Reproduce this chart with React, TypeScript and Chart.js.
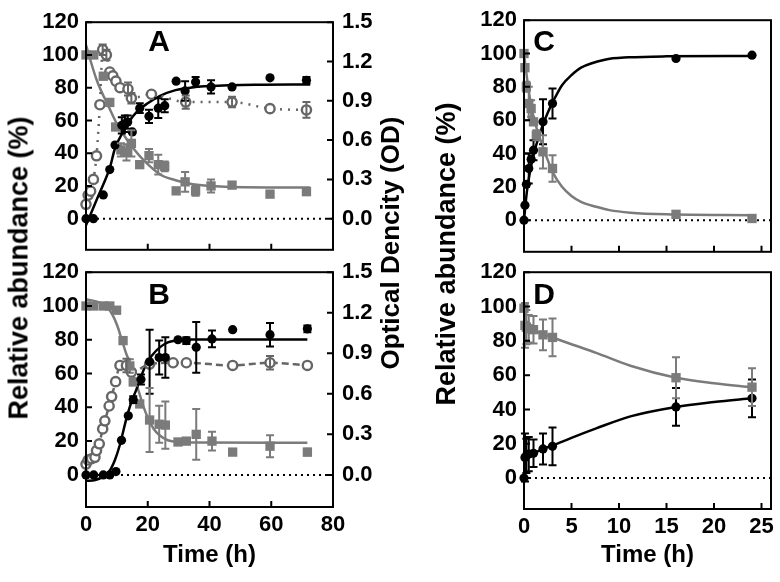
import React, { useEffect, useRef } from "react";
import { Chart, registerables } from "chart.js";

Chart.register(...registerables);

const FONT = "'Liberation Sans', Arial, Helvetica, sans-serif";
const BLACK = "#000000";
const GRAY = "#7b7b7b";
const OD_GRAY = "#666666";

// ---------- axis ticks ----------
const timeTicksLeft = [0, 20, 40, 60, 80];
const timeTicksRight = [0, 5, 10, 15, 20, 25];
const abundanceTicks = [0, 20, 40, 60, 80, 100, 120];
const odTicks = [0, 0.3, 0.6, 0.9, 1.2, 1.5];

// ---------- Panel A ----------
const aBlackT = [0, 2.4, 5.6, 7.7, 9.4, 11.6, 12.6, 13.5, 15, 17.4, 20.4, 23.4, 25.5, 29.2, 32.1, 35.5, 40.5, 47.3, 59.6, 71.4];
const aBlackV = [0, 0, 14.5, 30, 45, 57, 58, 59, 53, 67.5, 62.5, 67.5, 69, 84, 78, 83.5, 80.5, 80.5, 86, 84.5];
const aBlackErr = [0, 0, 0, 0, 0, 5, 5, 4, 0, 3, 4, 6, 4, 0, 6, 3, 4, 0, 0, 2];
const aGrayT = [0, 2.5, 5.6, 7.7, 9.6, 11.3, 13.1, 14.7, 17.4, 20.4, 23.4, 25.5, 29.2, 32.1, 35.5, 40.5, 47.3, 59.6, 71.4];
const aGrayV = [100, 100, 87, 71, 56, 42, 40.5, 46, 33, 38.5, 33, 32, 17, 22.5, 17, 20, 20.5, 15, 16.5];
const aGrayErr = [0, 0, 0, 0, 0, 4, 5, 8, 2, 4, 6, 3, 0, 6, 3, 4, 0, 0, 2];
const aOdT = [0, 0.7, 1.5, 2.4, 3.4, 4.5, 5.4, 6.6, 7.7, 8.7, 9.7, 11, 13.6, 14.7, 21.2, 32.3, 47.3, 59.6, 71.4];
const aOdV = [0.11, 0.18, 0.21, 0.3, 0.48, 0.87, 1.29, 1.25, 1.12, 1.09, 1.05, 1.0, 0.99, 0.92, 0.95, 0.89, 0.89, 0.84, 0.83];
const aOdErr = [0, 0, 0, 0, 0, 0, 0.04, 0.04, 0, 0, 0, 0, 0.05, 0.04, 0, 0.05, 0.04, 0, 0.06];
const aBlackFitT = [0, 4, 7.7, 9.4, 12, 14, 16.3, 20, 24, 29, 35, 40, 55, 72.6];
const aBlackFitV = [-4, 14, 31, 43, 53, 59.5, 65, 70.5, 75, 78.5, 80.3, 81, 81.8, 82];
const aGrayFitT = [0, 3.4, 7.7, 10, 13, 15.5, 18.5, 24, 29, 34.6, 45, 72.6];
const aGrayFitV = [106, 85, 67, 58, 49, 42.5, 36, 27, 23.5, 21, 19.5, 19];

// ---------- Panel B ----------
const bBlackT = [0, 2.5, 5.6, 7.7, 9.7, 11.5, 13.7, 15.3, 17.8, 20.6, 23.7, 25.7, 29.8, 32.5, 35.7, 40.8, 47.5, 59.6, 71.7];
const bBlackV = [0, 0, 0, 0, 2, 20.5, 35, 44.5, 56.5, 67, 69.5, 69.5, 80, 79.5, 75.5, 80.5, 86, 83, 86.5];
const bBlackErr = [0, 0, 0, 0, 0, 0, 0, 2, 3, 19, 10, 12, 0, 2, 15, 5, 0, 7, 2];
const bGrayT = [0, 2.5, 5.6, 7.7, 9.9, 12, 14.2, 15.3, 17.4, 20.6, 23.7, 25.7, 29.8, 32.5, 35.7, 40.8, 47.5, 59.6, 71.7];
const bGrayV = [100, 100, 100, 100, 97.5, 79.5, 64.5, 55, 42, 32.5, 30, 29.5, 19.5, 20, 24, 20, 13.5, 17, 13.5];
const bGrayErr = [0, 0, 0, 0, 0, 0, 4, 0, 0, 19, 11, 14, 0, 0, 15, 5.5, 0, 6.5, 2];
const bOdT = [0, 0.7, 1.8, 2.9, 3.4, 4.3, 5.4, 6.1, 7.5, 8.3, 9.6, 11, 13.1, 14.7, 20.6, 28.2, 32.5, 47.5, 59.6, 71.7];
const bOdV = [0.08, 0.11, 0.12, 0.13, 0.18, 0.23, 0.34, 0.4, 0.51, 0.58, 0.69, 0.81, 0.81, 0.76, 0.82, 0.83, 0.83, 0.81, 0.83, 0.81];
const bOdErr = [0, 0, 0, 0, 0, 0, 0, 0, 0, 0, 0, 0, 0.05, 0, 0, 0, 0, 0, 0.05, 0];
const bBlackFitT = [0, 3, 5.6, 7.5, 9.4, 11, 13.1, 14.5, 16.3, 18, 19.6, 21.5, 23.9, 26.5, 29.2, 33, 71.7];
const bBlackFitV = [-3.5, -3, -1, 2, 9, 18, 33.5, 42, 50.5, 59, 66, 71, 75.5, 78.5, 79.6, 80.2, 80.2];
const bGrayFitT = [0, 4.5, 7, 8.8, 10.2, 11.5, 12.8, 14.2, 15.5, 16.9, 18.5, 20.1, 22, 23.9, 26.5, 29.2, 35, 71.7];
const bGrayFitV = [104, 102, 99, 94, 88, 80.5, 73, 66, 58, 50.5, 41, 33.5, 27, 23.3, 20.5, 19.6, 19.2, 19];

// ---------- Panel C ----------
const cBlackT = [0, 0.1, 0.25, 0.5, 0.75, 1, 2, 3, 16, 24];
const cBlackV = [0, 9, 21.5, 31, 36.5, 42, 59, 70, 97, 99];
const cBlackErr = [0, 0, 0, 9, 0, 6, 13.5, 9, 0, 0];
const cGrayT = [0, 0.1, 0.25, 0.5, 0.75, 1, 1.3, 2, 3, 16, 24];
const cGrayV = [100, 91.5, 80, 70, 67, 59, 51, 41, 31, 3.5, 1];
const cGrayErr = [0, 0, 3, 10, 5, 0, 3, 10, 8, 0, 0];
const cBlackFitT = [0, 0.3, 0.6, 1, 1.5, 2, 2.5, 3, 4, 5, 6, 8.5, 11, 15, 24];
const cBlackFitV = [0, 17, 28, 39, 49, 57.5, 64.5, 70.5, 81, 87, 91.5, 96.3, 97.7, 98.3, 98.5];
const cGrayFitT = [0, 0.3, 0.6, 1, 1.5, 2, 2.5, 3, 4, 5, 6, 7.6, 9, 11.2, 15, 24];
const cGrayFitV = [100, 86, 74, 62, 52, 44, 36, 29, 20, 14.5, 11, 8, 6, 4.5, 3.5, 3];

// ---------- Panel D ----------
const dBlackT = [0, 0.1, 0.25, 0.5, 1, 2, 3, 16, 24];
const dBlackV = [0, 12, 13, 14, 14.5, 17, 18.5, 41.5, 46.5];
const dBlackErr = [0, 14, 10, 10, 8, 9, 11, 11, 11];
const dGrayT = [0, 0.1, 0.25, 0.5, 1, 2, 3, 16, 24];
const dGrayV = [99, 89, 88, 87, 86.5, 83.5, 82, 58.5, 53];
const dGrayErr = [0, 13, 10, 8, 8, 9, 11, 12, 11];
const dBlackFitT = [0, 1, 2, 3, 5, 7.6, 11.2, 16, 20, 24];
const dBlackFitV = [12, 14.5, 17, 19, 23.5, 29, 36, 41.5, 44.3, 46.5];
const dGrayFitT = [0, 1, 2, 3, 5, 7.6, 11.2, 16, 20, 24];
const dGrayFitV = [88.5, 86, 84, 82, 78, 73, 65.5, 58.5, 55.3, 53];

type Series = { t: number[]; v: number[]; err?: number[] };
type PanelCfg = {
  letter: string;
  left: number; top: number; w: number; h: number;
  pad: { top: number; bottom: number; left: number; right: number };
  yWidth: number; y2Width?: number; xHeight?: number;
  xMax: number; yMin: number; xTicks: number[]; xMarks: number[]; showX: boolean;
  letterX: number; letterY: number;
  black: Series; gray: Series; od?: Series; odDash?: number[];
  blackFit: Series; grayFit: Series;
};

const pts = (xs: number[], ys: number[]) => xs.map((x, i) => ({ x, y: ys[i] }));
const tickFont = { family: FONT, size: 22, weight: "bold" as const };

const panels: PanelCfg[] = [
  {
    letter: "A", left: 0, top: 0, w: 400, h: 272,
    pad: { top: 13, bottom: 12, left: 0, right: 0 },
    yWidth: 86, y2Width: 67, xMax: 80, yMin: -19,
    xTicks: timeTicksLeft, xMarks: [20, 40, 60], showX: false,
    letterX: 73, letterY: 21,
    black: { t: aBlackT, v: aBlackV, err: aBlackErr },
    gray: { t: aGrayT, v: aGrayV, err: aGrayErr },
    od: { t: aOdT, v: aOdV, err: aOdErr }, odDash: [2, 6],
    blackFit: { t: aBlackFitT, v: aBlackFitV },
    grayFit: { t: aGrayFitT, v: aGrayFitV },
  },
  {
    letter: "B", left: 0, top: 250, w: 400, h: 332,
    pad: { top: 10, bottom: 0, left: 0, right: 0 },
    yWidth: 86, y2Width: 67, xHeight: 75, xMax: 80, yMin: -19,
    xTicks: timeTicksLeft, xMarks: timeTicksLeft, showX: true,
    letterX: 73, letterY: 24,
    black: { t: bBlackT, v: bBlackV, err: bBlackErr },
    gray: { t: bGrayT, v: bGrayV, err: bGrayErr },
    od: { t: bOdT, v: bOdV, err: bOdErr }, odDash: [7, 4],
    blackFit: { t: bBlackFitT, v: bBlackFitV },
    grayFit: { t: bGrayFitT, v: bGrayFitV },
  },
  {
    letter: "C", left: 440, top: 0, w: 340, h: 272,
    pad: { top: 14, bottom: 10, left: 0, right: 9 },
    yWidth: 84, xMax: 26, yMin: -19,
    xTicks: timeTicksRight, xMarks: [5, 10, 15, 20, 25], showX: false,
    letterX: 20, letterY: 23,
    black: { t: cBlackT, v: cBlackV, err: cBlackErr },
    gray: { t: cGrayT, v: cGrayV, err: cGrayErr },
    blackFit: { t: cBlackFitT, v: cBlackFitV },
    grayFit: { t: cGrayFitT, v: cGrayFitV },
  },
  {
    letter: "D", left: 440, top: 252, w: 340, h: 330,
    pad: { top: 10, bottom: 0, left: 0, right: 9 },
    yWidth: 84, xHeight: 73, xMax: 26, yMin: -18,
    xTicks: timeTicksRight, xMarks: timeTicksRight, showX: true,
    letterX: 20, letterY: 24,
    black: { t: dBlackT, v: dBlackV, err: dBlackErr },
    gray: { t: dGrayT, v: dGrayV, err: dGrayErr },
    blackFit: { t: dBlackFitT, v: dBlackFitV },
    grayFit: { t: dGrayFitT, v: dGrayFitV },
  },
];

function decoPlugin(p: PanelCfg) {
  return {
    id: "deco" + p.letter,
    beforeDatasetsDraw(chart: any) {
      const { ctx, chartArea: a, scales } = chart;
      const y0 = scales.y.getPixelForValue(0);
      ctx.save();
      ctx.strokeStyle = BLACK;
      ctx.lineWidth = 2;
      ctx.setLineDash([2, 4]);
      ctx.beginPath();
      ctx.moveTo(a.left + 5, y0);
      ctx.lineTo(a.right, y0);
      ctx.stroke();
      ctx.restore();
    },
    afterDatasetsDraw(chart: any) {
      const { ctx, scales } = chart;
      const bars: { s: Series; axis: string; color: string }[] = [
        { s: p.black, axis: "y", color: BLACK },
        { s: p.gray, axis: "y", color: GRAY },
      ];
      if (p.od) bars.push({ s: p.od, axis: "y2", color: OD_GRAY });
      ctx.save();
      ctx.lineWidth = 2;
      for (const b of bars) {
        if (!b.s.err) continue;
        ctx.strokeStyle = b.color;
        b.s.t.forEach((t, i) => {
          const e = b.s.err![i];
          if (!e) return;
          const x = scales.x.getPixelForValue(t);
          const y1 = scales[b.axis].getPixelForValue(b.s.v[i] + e);
          const y2 = scales[b.axis].getPixelForValue(b.s.v[i] - e);
          ctx.beginPath();
          ctx.moveTo(x, y1); ctx.lineTo(x, y2);
          ctx.moveTo(x - 4, y1); ctx.lineTo(x + 4, y1);
          ctx.moveTo(x - 4, y2); ctx.lineTo(x + 4, y2);
          ctx.stroke();
        });
      }
      ctx.restore();
    },
    afterDraw(chart: any) {
      const { ctx, chartArea: a, scales } = chart;
      ctx.save();
      ctx.strokeStyle = BLACK;
      ctx.lineWidth = 2;
      ctx.strokeRect(a.left, a.top, a.right - a.left, a.bottom - a.top);
      const L = 6;
      ctx.beginPath();
      for (const v of p.xMarks) {
        const x = scales.x.getPixelForValue(v);
        ctx.moveTo(x, a.bottom); ctx.lineTo(x, a.bottom - L);
      }
      for (const v of abundanceTicks) {
        const y = scales.y.getPixelForValue(v);
        ctx.moveTo(a.left, y); ctx.lineTo(a.left + L, y);
      }
      if (scales.y2) {
        for (const v of odTicks) {
          const y = scales.y2.getPixelForValue(v);
          ctx.moveTo(a.right, y); ctx.lineTo(a.right - L, y);
        }
      }
      ctx.stroke();
      ctx.fillStyle = BLACK;
      ctx.font = `bold 30px ${FONT}`;
      ctx.textAlign = "center";
      ctx.textBaseline = "middle";
      ctx.fillText(p.letter, a.left + p.letterX, a.top + p.letterY);
      ctx.restore();
    },
  };
}

function buildConfig(p: PanelCfg): any {
  const datasets: any[] = [
    {
      data: pts(p.black.t, p.black.v), showLine: false, pointRadius: 4.6,
      pointBackgroundColor: BLACK, pointBorderColor: BLACK, pointBorderWidth: 0,
      yAxisID: "y", clip: false,
    },
    {
      data: pts(p.gray.t, p.gray.v), showLine: false, pointStyle: "rect", pointRadius: 6.6,
      pointBackgroundColor: GRAY, pointBorderColor: GRAY, pointBorderWidth: 0,
      yAxisID: "y", clip: false,
    },
  ];
  if (p.od) {
    datasets.push({
      data: pts(p.od.t, p.od.v), borderColor: OD_GRAY, borderWidth: 2.5, borderDash: p.odDash,
      pointRadius: 4.6, pointBorderWidth: 2.4, pointBackgroundColor: "#ffffff", pointBorderColor: OD_GRAY,
      cubicInterpolationMode: "monotone", yAxisID: "y2", clip: false,
    });
  }
  datasets.push(
    {
      data: pts(p.blackFit.t, p.blackFit.v), borderColor: BLACK, borderWidth: 2.5, pointRadius: 0,
      cubicInterpolationMode: "monotone", yAxisID: "y", clip: false,
    },
    {
      data: pts(p.grayFit.t, p.grayFit.v), borderColor: GRAY, borderWidth: 2.5, pointRadius: 0,
      cubicInterpolationMode: "monotone", yAxisID: "y", clip: false,
    }
  );

  const scales: any = {
    x: {
      type: "linear", min: 0, max: p.xMax, display: p.showX,
      afterBuildTicks: (s: any) => { s.ticks = p.xTicks.map((v) => ({ value: v })); },
      grid: { display: false, drawTicks: false },
      border: { display: false },
      ticks: { font: tickFont, color: BLACK, padding: 5, maxRotation: 0, autoSkip: false, callback: (v: any) => String(v) },
      title: {
        display: p.showX, text: "Time (h)", color: BLACK,
        font: { family: FONT, size: 24, weight: "bold" }, padding: { top: 0, bottom: 12 },
      },
    },
    y: {
      type: "linear", position: "left", min: p.yMin, max: 120,
      afterBuildTicks: (s: any) => { s.ticks = abundanceTicks.map((v) => ({ value: v })); },
      afterFit: (s: any) => { s.width = p.yWidth; },
      grid: { display: false, drawTicks: false },
      border: { display: false },
      ticks: { font: tickFont, color: BLACK, padding: 7, callback: (v: any) => String(v) },
    },
  };
  if (p.xHeight) scales.x.afterFit = (s: any) => { s.height = p.xHeight; };
  if (p.y2Width) {
    scales.y2 = {
      type: "linear", position: "right", min: (p.yMin * 1.5) / 120, max: 1.5,
      afterBuildTicks: (s: any) => { s.ticks = odTicks.map((v) => ({ value: v })); },
      afterFit: (s: any) => { s.width = p.y2Width; },
      grid: { display: false, drawTicks: false },
      border: { display: false },
      ticks: { font: tickFont, color: BLACK, padding: 9, callback: (v: any) => Number(v).toFixed(1) },
    };
  }

  return {
    type: "line",
    data: { datasets },
    options: {
      animation: false,
      responsive: false,
      devicePixelRatio: 1,
      layout: { padding: p.pad, autoPadding: false },
      plugins: { legend: { display: false }, tooltip: { enabled: false }, title: { display: false } },
      scales,
    },
    plugins: [decoPlugin(p)],
  };
}

function Panel({ p }: { p: PanelCfg }) {
  const ref = useRef<HTMLCanvasElement>(null);
  useEffect(() => {
    const chart = new Chart(ref.current as HTMLCanvasElement, buildConfig(p));
    return () => chart.destroy();
  }, []);
  return (
    <canvas
      ref={ref}
      width={p.w}
      height={p.h}
      style={{ position: "absolute", left: p.left, top: p.top, width: p.w, height: p.h }}
    />
  );
}

const rot = (x: number, y: number, size: number): React.CSSProperties => ({
  position: "absolute", left: x, top: y,
  transform: "translate(-50%, -50%) rotate(-90deg)",
  whiteSpace: "nowrap", fontFamily: FONT, fontWeight: "bold", fontSize: size,
  lineHeight: 1, color: BLACK,
});

export default function App() {
  return (
    <div style={{ position: "fixed", left: 0, top: 0, width: 780, height: 582, background: "#ffffff", overflow: "hidden" }}>
      {panels.map((p) => <Panel key={p.letter} p={p} />)}
      <div style={rot(19, 268, 27)}>Relative abundance (%)</div>
      <div style={rot(390, 243, 26)}>Optical Dencity (OD)</div>
      <div style={rot(446, 254, 27)}>Relative abundance (%)</div>
    </div>
  );
}
